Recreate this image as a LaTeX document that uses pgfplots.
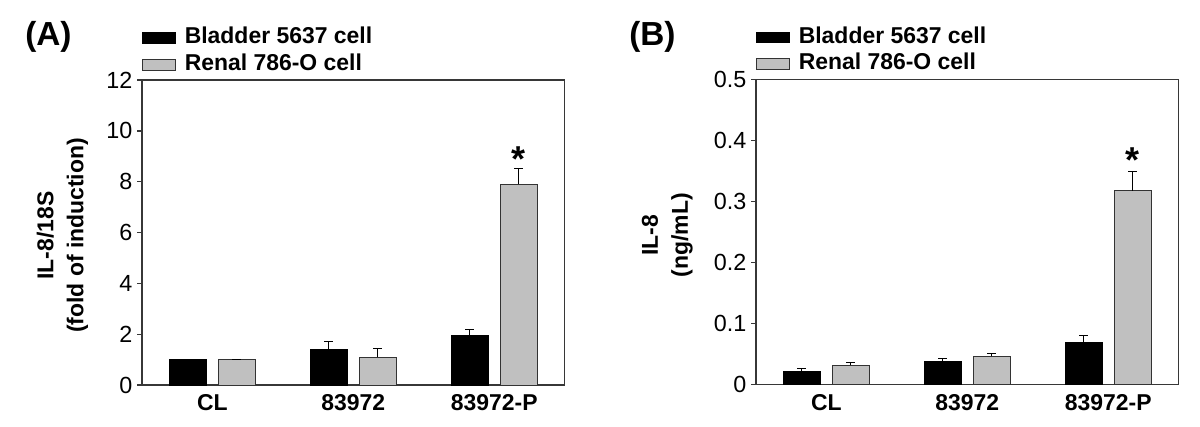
\documentclass[border=0pt]{standalone}
\usepackage{fontspec}
\setmainfont{Liberation Sans}
\usepackage{pgfplots}
\pgfplotsset{compat=1.18}
\definecolor{barGray}{RGB}{192,192,192}
\definecolor{axGray}{RGB}{55,55,55}

\pgfplotsset{
  cellpanel/.style={
    scale only axis, width=317pt, height=228.75pt,
    anchor=south west,
    xmin=-0.5, xmax=2.5, xtick={0,1,2}, xticklabels={CL,83972,83972-P},
    xticklabel style={font=\bfseries\fontsize{17.2}{20}\selectfont},
    yticklabel style={font=\fontsize{17.5}{20}\selectfont},
    /pgf/number format/assume math mode=true,
    ymin=0,
    axis line style={axGray, line width=1pt},
    ytick pos=left, tick align=outside, major tick length=3.75pt,
    tick style={axGray, line width=1pt},
    x tick style={draw=none},
    ylabel style={font=\bfseries\fontsize{17.2}{22.5}\selectfont, align=center, anchor=center},
    legend style={at={(axis description cs:0,1)}, anchor=south west, yshift=3.5pt,
      draw=none, fill=none, inner sep=0pt, row sep=4pt,
      font=\bfseries\fontsize{17.2}{20}\selectfont,
      nodes={inner sep=0pt, text height=12.5pt, text depth=3.5pt},
      /tikz/every odd column/.style={column sep=6.75pt}},
    legend cell align=left,
    legend image code/.code={\draw[##1] (0pt,-4.1pt) rectangle (24.75pt,4.1pt);},
    error bars/y dir=plus, error bars/y explicit,
    error bars/error mark options={black, line width=0.8pt, mark size=3.4pt, rotate=90},
    error bars/error bar style={black, line width=0.8pt},
  },
  blackbar/.style={ybar, bar shift=0pt, bar width=0.262, fill=black, draw=black, line width=0.6pt},
  graybar/.style={ybar, bar shift=0pt, bar width=0.262, fill=barGray, draw=black!80, line width=0.6pt},
}

\begin{document}
\begin{tikzpicture}
\path[use as bounding box] (0,0) rectangle (900pt,-319.5pt);

\node[anchor=west, inner sep=0pt, font=\bfseries\fontsize{25}{28}\selectfont] at (18.75pt,-27.4pt) {(A)};
\node[anchor=west, inner sep=0pt, font=\bfseries\fontsize{25}{28}\selectfont] at (471.75pt,-27.4pt) {(B)};

% panel A: IL-8 mRNA
\begin{axis}[cellpanel, at={(106.5pt,-288.75pt)},
  ymax=12, ytick={0,2,4,6,8,10,12},
  ylabel={IL-8/18S\\(fold of induction)},
  ylabel style={at={(axis description cs:-0.188,0.49)}}]
\addlegendimage{fill=black, draw=black}
\addlegendentry{Bladder 5637 cell}
\addlegendimage{fill=barGray, draw=black!80}
\addlegendentry{Renal 786-O cell}
\addplot[blackbar] coordinates {(-0.174,1.0) +- (0,0) (0.826,1.40) +- (0,0.30) (1.826,1.94) +- (0,0.25)};
\addplot[graybar] coordinates {(0.174,1.0) +- (0,0) (1.174,1.09) +- (0,0.34) (2.174,7.90) +- (0,0.60)};
\node[anchor=north, inner sep=0pt, font=\bfseries\fontsize{27}{30}\selectfont] at (axis cs:2.174,9.38) {*};
\end{axis}

% panel B: IL-8 protein
\begin{axis}[cellpanel, at={(567pt,-288.4pt)},
  ymax=0.5, ytick={0,0.1,0.2,0.3,0.4,0.5},
  ylabel={IL-8\\(ng/mL)},
  ylabel style={at={(axis description cs:-0.21,0.49)}}]
\addlegendimage{fill=black, draw=black}
\addlegendentry{Bladder 5637 cell}
\addlegendimage{fill=barGray, draw=black!80}
\addlegendentry{Renal 786-O cell}
\addplot[blackbar] coordinates {(-0.174,0.022) +- (0,0.004) (0.826,0.038) +- (0,0.004) (1.826,0.069) +- (0,0.011)};
\addplot[graybar] coordinates {(0.174,0.032) +- (0,0.004) (1.174,0.046) +- (0,0.005) (2.174,0.318) +- (0,0.031)};
\node[anchor=north, inner sep=0pt, font=\bfseries\fontsize{27}{30}\selectfont] at (axis cs:2.174,0.389) {*};
\end{axis}
\end{tikzpicture}
\end{document}
